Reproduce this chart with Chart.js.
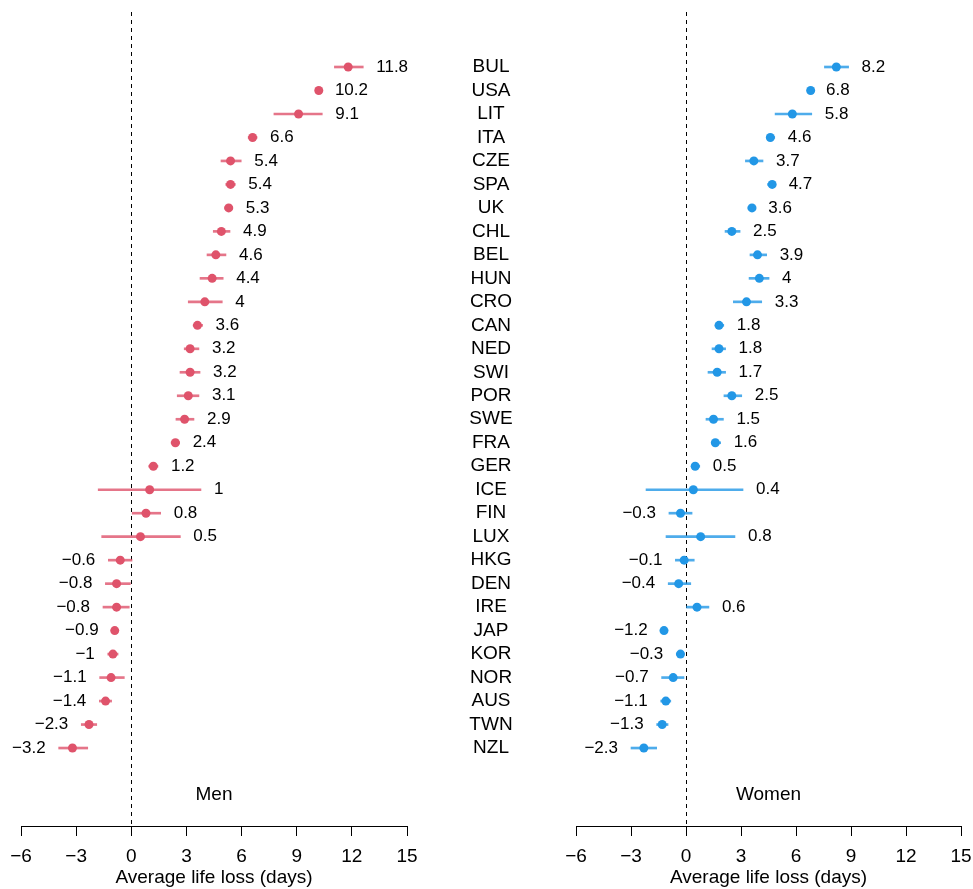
<!DOCTYPE html>
<html>
<head>
<meta charset="utf-8">
<script src="https://cdn.jsdelivr.net/npm/chart.js@4.4.1/dist/chart.umd.min.js"></script>
<style>
  body { margin: 0; background: #fff; overflow: hidden; }
  #wrap { position: relative; width: 973px; height: 889px; background: #fff; }
  #men { position: absolute; left: 0; top: 0; }
  #women { position: absolute; left: 440px; top: 0; }
</style>
</head>
<body>
<div id="wrap">
  <canvas id="men" width="440" height="889"></canvas>
  <canvas id="women" width="533" height="889"></canvas>
</div>
<script>
// Data
const countries = ['BUL', 'USA', 'LIT', 'ITA', 'CZE', 'SPA', 'UK', 'CHL', 'BEL', 'HUN',
    'CRO', 'CAN', 'NED', 'SWI', 'POR', 'SWE', 'FRA', 'GER', 'ICE', 'FIN',
    'LUX', 'HKG', 'DEN', 'IRE', 'JAP', 'KOR', 'NOR', 'AUS', 'TWN', 'NZL'];

const menEst = [11.8, 10.2, 9.1, 6.6, 5.4, 5.4, 5.3, 4.9, 4.6, 4.4,
    4, 3.6, 3.2, 3.2, 3.1, 2.9, 2.4, 1.2, 1, 0.8,
    0.5, -0.6, -0.8, -0.8, -0.9, -1, -1.1, -1.4, -2.3, -3.2];
const menLo = [11.05, 10.03, 7.76, 6.36, 4.88, 5.14, 5.08, 4.46, 4.12, 3.74,
    3.10, 3.37, 2.88, 2.65, 2.50, 2.43, 2.17, 0.95, -1.80, 0.05,
    -1.61, -1.25, -1.41, -1.54, -1.07, -1.28, -1.72, -1.74, -2.72, -3.95];
const menHi = [12.62, 10.37, 10.39, 6.84, 5.98, 5.66, 5.52, 5.37, 5.15, 5.00,
    4.95, 3.88, 3.68, 3.74, 3.68, 3.41, 2.63, 1.45, 3.79, 1.60,
    2.67, 0.04, -0.05, -0.11, -0.73, -0.72, -0.38, -1.07, -1.88, -2.37];

const womenEst = [8.2, 6.8, 5.8, 4.6, 3.7, 4.7, 3.6, 2.5, 3.9, 4,
    3.3, 1.8, 1.8, 1.7, 2.5, 1.5, 1.6, 0.5, 0.4, -0.3,
    0.8, -0.1, -0.4, 0.6, -1.2, -0.3, -0.7, -1.1, -1.3, -2.3];
const womenLo = [7.55, 6.67, 4.86, 4.40, 3.24, 4.45, 3.38, 2.13, 3.49, 3.44,
    2.58, 1.68, 1.42, 1.20, 2.07, 1.09, 1.39, 0.35, -2.18, -0.93,
    -1.09, -0.58, -0.97, 0.00, -1.38, -0.53, -1.33, -1.38, -1.60, -3.00];
const womenHi = [8.87, 6.93, 6.86, 4.84, 4.20, 4.89, 3.78, 2.95, 4.40, 4.53,
    4.13, 2.06, 2.16, 2.16, 3.04, 2.04, 1.89, 0.75, 3.11, 0.33,
    2.67, 0.45, 0.26, 1.25, -1.02, -0.13, -0.11, -0.83, -0.98, -1.60];

const xTicks = [-6, -3, 0, 3, 6, 9, 12, 15];
const panelLabelRow = 31;
const panelLabelX = 4.5;

const FONT = "'Liberation Sans', Arial, Helvetica, sans-serif";
const MEN_COLOR = '#DF536B';
const WOMEN_COLOR = '#2297E6';

function fmt(v) {
    return (v < 0 ? '\u2212' : '') + String(Math.abs(v));
}

// dashed zero line, value labels, panel name, country names
const overlay = {
    id: 'overlay',
    beforeDatasetsDraw(chart) {
        const { ctx, chartArea, scales: { x } } = chart;
        const px = Math.round(x.getPixelForValue(0)) + 0.5;
        ctx.save();
        ctx.strokeStyle = '#000';
        ctx.lineWidth = 1;
        ctx.setLineDash([4, 4]);
        ctx.beginPath();
        ctx.moveTo(px, chartArea.top);
        ctx.lineTo(px, chartArea.bottom);
        ctx.stroke();
        ctx.restore();
    },
    afterDatasetsDraw(chart, args, opts) {
        const { ctx, chartArea, scales: { x, y } } = chart;
        ctx.save();
        ctx.fillStyle = '#000';
        ctx.textBaseline = 'middle';
        ctx.font = '17px ' + FONT;
        opts.est.forEach((v, i) => {
            const py = y.getPixelForValue(i);
            if (v >= 0) {
                ctx.textAlign = 'left';
                ctx.fillText(fmt(v), x.getPixelForValue(opts.hi[i]) + 13, py);
            } else {
                ctx.textAlign = 'right';
                ctx.fillText(fmt(v), x.getPixelForValue(opts.lo[i]) - 13, py);
            }
        });
        ctx.font = '19px ' + FONT;
        ctx.textAlign = 'center';
        ctx.fillText(opts.name, x.getPixelForValue(panelLabelX), y.getPixelForValue(panelLabelRow));
        if (opts.countries) {
            countries.forEach((c, i) => {
                ctx.fillText(c, chartArea.left - 85, y.getPixelForValue(i));
            });
        }
        ctx.restore();
    }
};

function makePanel(id, est, lo, hi, color, ciColor, name, showCountries, padding) {
    const ctx = document.getElementById(id).getContext('2d');
    return new Chart(ctx, {
        type: 'scatter',
        data: {
            datasets: [
                {
                    type: 'bar',
                    indexAxis: 'y',
                    data: countries.map((c, i) => ({ x: [lo[i], hi[i]], y: i })),
                    backgroundColor: ciColor,
                    borderWidth: 0,
                    barThickness: 2,
                    order: 2
                },
                {
                    type: 'scatter',
                    data: est.map((v, i) => ({ x: v, y: i })),
                    backgroundColor: color,
                    pointRadius: 4.5,
                    pointBorderWidth: 0,
                    order: 1
                }
            ]
        },
        options: {
            responsive: false,
            animation: false,
            devicePixelRatio: 1,
            events: [],
            layout: { padding: padding },
            scales: {
                x: {
                    type: 'linear',
                    min: -6, max: 15,
                    offset: false,
                    afterBuildTicks: (scale) => { scale.ticks = xTicks.map(v => ({ value: v })); },
                    afterFit: (scale) => {
                        scale.height = 63;
                        scale.paddingLeft = 0;
                        scale.paddingRight = 0;
                    },
                    grid: { drawOnChartArea: false, drawTicks: true, tickLength: 10, tickColor: '#000', tickWidth: 1 },
                    border: { display: true, color: '#000', width: 1 },
                    ticks: {
                        color: '#000',
                        padding: 9,
                        maxRotation: 0,
                        font: { family: FONT, size: 19 },
                        callback: (v) => fmt(v)
                    },
                    title: {
                        display: true,
                        text: 'Average life loss (days)',
                        color: '#000',
                        padding: 0,
                        font: { family: FONT, size: 19 }
                    }
                },
                y: {
                    type: 'linear',
                    display: false,
                    reverse: true,
                    offset: false,
                    min: -2.342,
                    max: 32.32
                }
            },
            plugins: {
                legend: { display: false },
                tooltip: { enabled: false },
                overlay: { est: est, lo: lo, hi: hi, name: name, countries: showCountries }
            }
        },
        plugins: [overlay]
    });
}

makePanel('men', menEst, menLo, menHi, MEN_COLOR, 'rgba(223, 83, 107, 0.8)', 'Men', false,
    { left: 21, right: 33, top: 12, bottom: 0 });
makePanel('women', womenEst, womenLo, womenHi, WOMEN_COLOR, 'rgba(34, 151, 230, 0.8)', 'Women', true,
    { left: 136, right: 12, top: 12, bottom: 0 });
</script>
</body>
</html>
